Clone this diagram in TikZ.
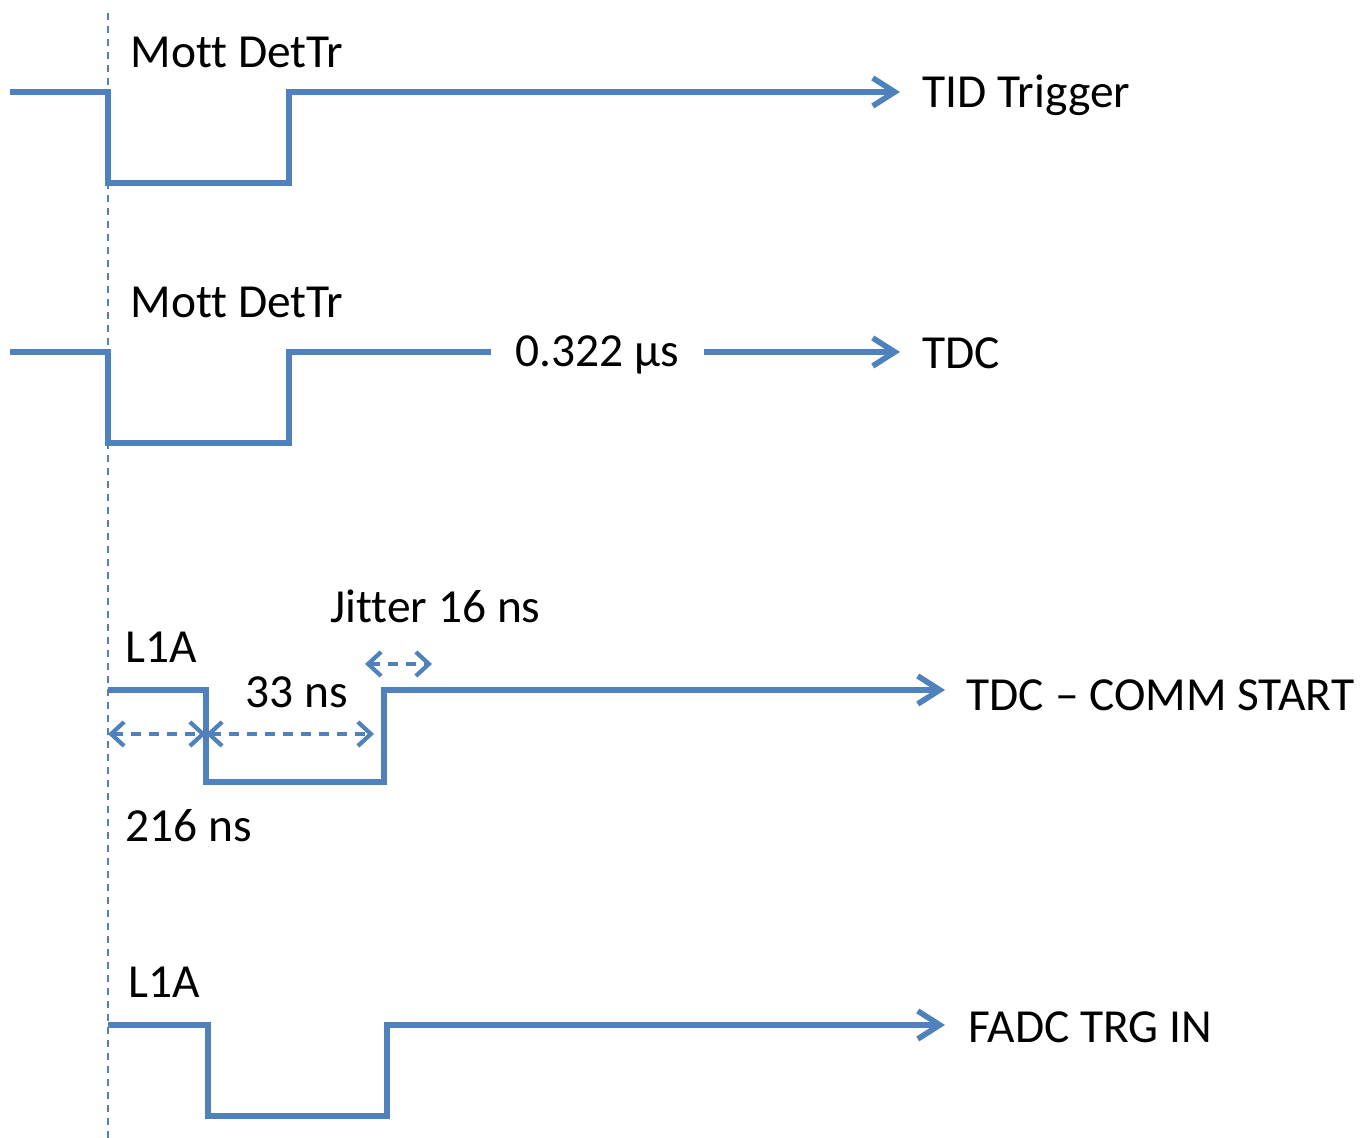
\documentclass[tikz,border=0pt]{standalone}
\usepackage{fontspec}
\setmainfont{Carlito}[Ligatures={TeX,NoCommon}]
\usetikzlibrary{arrows.meta}
\definecolor{sigblue}{RGB}{79,129,189}

\begin{document}
\begin{tikzpicture}[
  signal/.style={draw=sigblue, line width=1.6pt},
  sigarrow/.style={signal, -{Straight Barb[length=2.2mm,width=2.8mm]}},
  span/.style={draw=sigblue, line width=1.2pt, dash pattern=on 1mm off 0.8mm,
    {Straight Barb[length=1.3mm,width=2.4mm]}-{Straight Barb[length=1.3mm,width=2.4mm]}},
  refline/.style={draw=sigblue, line width=0.7pt, dash pattern=on 0.7mm off 0.6mm},
  lbl/.style={inner sep=0pt, anchor=base west, font=\fontsize{13.5}{16}\selectfont}
]

\pgfmathsetmacro{\edge}{1.08}
\pgfmathsetmacro{\depth}{0.91}

\useasboundingbox (0,0) rectangle (13.64,11.38);

% Reference line:
\coordinate (v0) at (\edge,0);
\coordinate (v1) at (\edge,11.30);
\draw[refline] (v0) -- (v1);

% TID trigger:
\coordinate (a0) at (0.10,10.46);
\coordinate (a1) at (\edge,10.46);
\coordinate (a2) at (2.89,10.46);
\coordinate (a3) at (9.00,10.46);
\draw[sigarrow] (a0) -- (a1) -- ++(0,-\depth) -| (a2) -- (a3);
\node[lbl] (mott1) at (1.30,10.70) {Mott DetTr};
\node[lbl] (tid) at (9.22,10.30) {TID Trigger};

% TDC:
\coordinate (b0) at (0.10,7.86);
\coordinate (b1) at (\edge,7.86);
\coordinate (b2) at (2.89,7.86);
\coordinate (b3) at (9.00,7.86);
\node[font=\fontsize{13.5}{16}\selectfont, inner xsep=0.24cm] (dly) at (5.975,7.83) {0.322 µs};
\draw[signal] (b0) -- (b1) -- ++(0,-\depth) -| (b2) -- (b2 -| dly.west);
\draw[sigarrow] (b3 -| dly.east) -- (b3);
\node[lbl] (mott2) at (1.30,8.20) {Mott DetTr};
\node[lbl] (tdc) at (9.22,7.69) {TDC};

% TDC - COMM START:
\coordinate (c1) at (\edge,4.48);
\coordinate (c2) at (2.06,4.48);
\coordinate (c3) at (3.84,4.48);
\coordinate (c4) at (9.45,4.48);
\draw[sigarrow] (c1) -- (c2) -- ++(0,-0.92) -| (c3) -- (c4);
\node[lbl] (l1a1) at (1.25,4.75) {L1A};
\node[lbl] (t33) at (2.45,4.30) {33 ns};
\node[lbl] (jit) at (3.30,5.15) {Jitter 16 ns};
\node[lbl] (t216) at (1.25,2.96) {216 ns};
\node[lbl] (comm) at (9.66,4.27) {TDC -- COMM START};
% Time spans:
\coordinate (s0) at (\edge,4.04);
\coordinate (s1) at (2.06,4.04);
\coordinate (s2) at (3.74,4.04);
\coordinate (j0) at (3.65,4.74);
\coordinate (j1) at (4.32,4.74);
\draw[span] (s0) -- (s1);
\draw[span] (s1) -- (s2);
\draw[span] (j0) -- (j1);

% FADC TRG IN:
\coordinate (d1) at (\edge,1.13);
\coordinate (d2) at (2.08,1.13);
\coordinate (d3) at (3.87,1.13);
\coordinate (d4) at (9.45,1.13);
\draw[sigarrow] (d1) -- (d2) -- ++(0,-\depth) -| (d3) -- (d4);
\node[lbl] (l1a2) at (1.28,1.40) {L1A};
\node[lbl] (fadc) at (9.68,0.95) {FADC TRG IN};

\end{tikzpicture}
\end{document}
